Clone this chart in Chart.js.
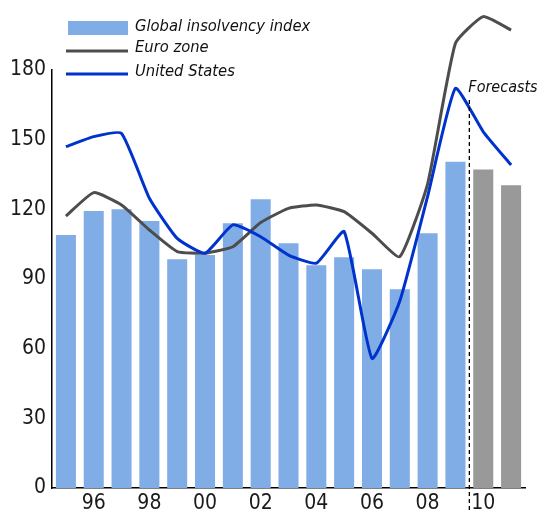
<!DOCTYPE html>
<html>
<head>
<meta charset="utf-8">
<script src="https://cdn.jsdelivr.net/npm/chart.js@4.4.0/dist/chart.umd.min.js"></script>
<style>
  html, body { margin: 0; padding: 0; background: #ffffff; }
  #wrap { width: 537px; height: 514px; position: relative; }
</style>
</head>
<body>
<div id="wrap"><canvas id="c" width="537" height="514"></canvas></div>
<script>
const years = ['1995','1996','1997','1998','1999','2000','2001','2002','2003','2004','2005','2006','2007','2008','2009','2010','2011'];
const tickLabels = ['', '96', '', '98', '', '00', '', '02', '', '04', '', '06', '', '08', '', '10', ''];
const globalIndex = [109, 119.3, 120, 115, 98.5, 100.3, 114, 124.3, 105.4, 95.9, 99.4, 94.2, 85.6, 109.7, 140.5, 137.2, 130.4];
const euroZone = [117.1, 127.2, 121.9, 111.1, 101.8, 101.1, 103.9, 114.3, 120.4, 121.9, 119.0, 109.7, 99.6, 131, 191.5, 203, 197.2];
const unitedStates = [147.0, 151.3, 152.7, 124.8, 107.5, 101.1, 113.3, 108.2, 100.3, 96.8, 110.4, 55.8, 80.5, 125.6, 172.1, 153.4, 139.1];
const forecastStart = 15; // index of first forecast year (2010)
const yTicks = [0, 30, 60, 90, 120, 150, 180];

const BLUE_BAR = '#80ade6';
const GREY_BAR = '#999999';
const EURO_COL = '#4d4d4d';
const US_COL = '#0033cc';
const FONT = "'DejaVu Sans Condensed', 'Liberation Sans Narrow', sans-serif";

const barColors = globalIndex.map((v, i) => i >= forecastStart ? GREY_BAR : BLUE_BAR);

const overlay = {
  id: 'overlay',
  afterDatasetsDraw(chart) {
    const ctx = chart.ctx;
    const x = chart.scales.x;
    const xd = (x.getPixelForValue(forecastStart - 1) + x.getPixelForValue(forecastStart)) / 2;
    ctx.save();
    ctx.strokeStyle = '#000';
    ctx.lineWidth = 1.3;
    ctx.setLineDash([4, 3]);
    ctx.beginPath();
    ctx.moveTo(xd, chart.chartArea.top + 30);
    ctx.lineTo(xd, chart.chartArea.bottom + 22);
    ctx.stroke();
    ctx.setLineDash([]);
    ctx.fillStyle = '#111';
    ctx.font = "italic 16px " + FONT;
    ctx.textAlign = 'left';
    ctx.textBaseline = 'middle';
    ctx.fillText('Forecasts', xd - 1, chart.chartArea.top + 18);
    ctx.restore();
  },
  afterDraw(chart) {
    const ctx = chart.ctx;
    const ds = chart.data.datasets;
    ctx.save();
    ctx.font = "italic 16.4px " + FONT;
    ctx.textAlign = 'left';
    ctx.textBaseline = 'middle';
    const bar = ds.find(d => d.type === 'bar');
    ctx.fillStyle = BLUE_BAR;
    ctx.fillRect(68, 21, 60, 14);
    ctx.fillStyle = '#111';
    ctx.fillText(bar.label, 135, 27);
    const euro = ds.find(d => d.label === 'Euro zone');
    ctx.strokeStyle = euro.borderColor;
    ctx.lineWidth = 3;
    ctx.beginPath(); ctx.moveTo(66, 51); ctx.lineTo(128, 51); ctx.stroke();
    ctx.fillText(euro.label, 135, 48);
    const us = ds.find(d => d.label === 'United States');
    ctx.strokeStyle = us.borderColor;
    ctx.beginPath(); ctx.moveTo(66, 74); ctx.lineTo(128, 74); ctx.stroke();
    ctx.fillText(us.label, 135, 72);
    ctx.restore();
  }
};

new Chart(document.getElementById('c'), {
  type: 'bar',
  data: {
    labels: years,
    datasets: [
      {
        type: 'line', label: 'United States', data: unitedStates,
        borderColor: US_COL, borderWidth: 3, pointRadius: 0, tension: 0.15,
        clip: false, order: 0, fill: false
      },
      {
        type: 'line', label: 'Euro zone', data: euroZone,
        borderColor: EURO_COL, borderWidth: 3, pointRadius: 0, tension: 0.15,
        clip: false, order: 1, fill: false
      },
      {
        type: 'bar', label: 'Global insolvency index', data: globalIndex,
        backgroundColor: barColors, borderWidth: 0,
        barPercentage: 0.72, categoryPercentage: 1.0, order: 2
      }
    ]
  },
  options: {
    responsive: false,
    animation: false,
    devicePixelRatio: 1,
    layout: { padding: { top: 70, right: 12, left: 0, bottom: 0 } },
    plugins: { legend: { display: false }, tooltip: { enabled: false } },
    scales: {
      x: {
        grid: { display: false, drawTicks: false },
        border: { display: true, color: '#000', width: 1.5 },
        ticks: {
          autoSkip: false, maxRotation: 0, padding: 3,
          color: '#1a1a1a', font: { family: FONT, size: 21 },
          callback: (v, i) => tickLabels[i]
        },
        afterFit: s => { s.height = 26; }
      },
      y: {
        min: 0, max: 180,
        grid: { display: false, drawTicks: false },
        border: { display: true, color: '#000', width: 1.5 },
        afterBuildTicks: s => { s.ticks = yTicks.map(v => ({ value: v })); },
        ticks: { padding: 6, color: '#1a1a1a', font: { family: FONT, size: 21 } },
        afterFit: s => { s.width = 52; }
      }
    }
  },
  plugins: [overlay]
});
</script>
</body>
</html>
